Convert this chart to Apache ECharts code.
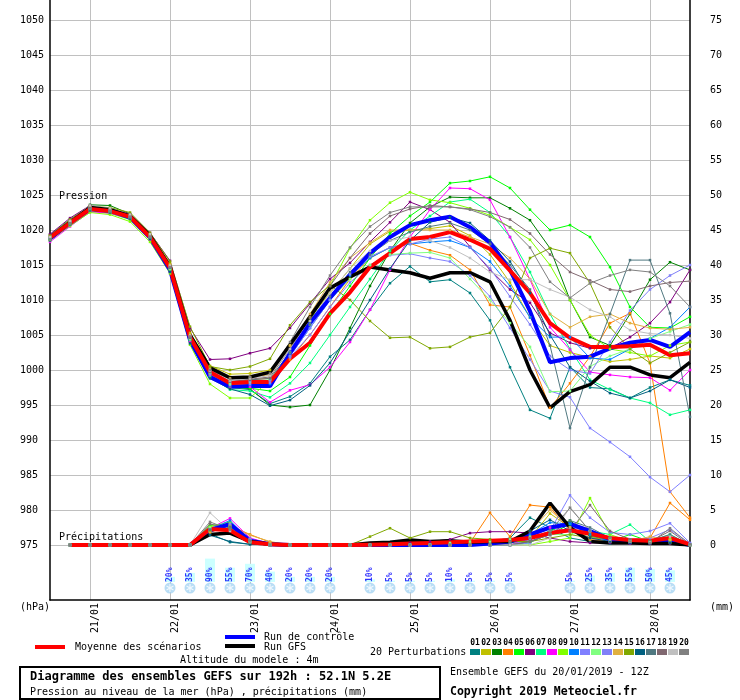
<!DOCTYPE html>
<html>
<head>
<meta charset="UTF-8">
<title>Ensembles GEFS</title>
<script src="https://cdn.jsdelivr.net/npm/echarts@6/dist/echarts.min.js"></script>
<style>
  body { margin: 0; background: #fff; }
  #main { width: 740px; height: 700px; }
</style>
</head>
<body>
<div id="main"></div>
<script type="text/javascript">
// echeances toutes les 6h, 20/01 12Z -> 28/01 12Z
var steps = [];
for (var h = 0; h <= 192; h += 6) steps.push(h);
var days = ['21/01', '22/01', '23/01', '24/01', '25/01', '26/01', '27/01', '28/01'];

// pression (hPa)
var pMean = [1018.9,1021.0,1023.0,1022.7,1021.9,1019.0,1014.6,1004.7,999.7,998.1,998.3,998.3,1001.6,1003.9,1008.1,1011.1,1014.7,1016.7,1018.7,1019.0,1019.7,1018.6,1017.3,1014.2,1011.0,1006.7,1004.6,1003.3,1003.3,1003.4,1003.6,1002.1,1002.4];
var pCtrl = [1018.8,1021.0,1023.0,1022.8,1021.8,1018.9,1014.3,1004.3,999.0,997.6,997.7,997.7,1002.4,1006.7,1010.3,1013.6,1016.7,1019.0,1020.7,1021.4,1021.9,1020.4,1018.2,1014.3,1008.4,1001.1,1001.7,1001.9,1003.1,1003.9,1004.3,1003.3,1005.4];
var pGfs = [1018.9,1021.1,1023.2,1022.9,1022.0,1019.2,1014.8,1005.0,1000.3,998.9,999.0,999.7,1003.6,1007.6,1011.7,1013.3,1014.7,1014.3,1013.9,1013.1,1013.9,1013.9,1012.6,1007.1,1000.0,994.6,996.9,997.9,1000.4,1000.4,999.3,998.9,1001.1];
var p01 = [1019.3,1021.5,1023.4,1022.9,1021.8,1018.8,1014.2,1004.0,999.2,997.5,997.2,995.2,996.2,998.1,1001.9,1004.3,1008.6,1012.4,1014.8,1012.6,1012.9,1011.0,1007.1,1000.4,994.3,993.1,1000.4,997.5,997.3,996.0,997.5,998.6,997.8];
var p02 = [1019.0,1021.2,1023.3,1022.9,1022.2,1019.4,1015.2,1005.3,1000.6,999.4,999.5,1000.0,1003.5,1007.5,1011.0,1014.5,1018.0,1019.8,1020.0,1020.2,1020.6,1019.2,1016.5,1012.5,1007.5,1003.5,1002.5,1001.8,1001.2,1001.5,1002.0,1001.7,1003.0];
var p03 = [1018.6,1020.9,1023.6,1023.5,1022.3,1019.3,1014.5,1004.5,999.3,997.8,997.3,995.0,994.7,995.0,1000.0,1006.0,1012.0,1017.0,1021.0,1023.3,1024.7,1024.6,1024.6,1023.1,1021.4,1017.4,1010.0,1004.7,1003.5,1008.0,1012.9,1015.4,1014.3];
var p04 = [1019.2,1021.4,1023.0,1022.6,1021.7,1019.0,1014.5,1004.6,999.4,998.2,998.6,998.8,1001.5,1005.0,1009.0,1013.0,1016.0,1017.5,1018.1,1017.1,1016.4,1014.3,1009.3,1009.0,1002.1,994.6,998.1,1001.9,1006.7,1008.1,1001.0,982.6,978.9];
var p05 = [1018.7,1020.9,1022.8,1022.4,1021.5,1018.7,1014.3,1004.2,999.2,997.5,997.4,997.0,999.0,1003.5,1008.0,1012.0,1016.0,1019.5,1022.0,1024.0,1026.7,1027.0,1027.6,1026.0,1022.9,1020.0,1020.7,1019.0,1014.7,1009.0,1006.1,1006.0,1007.6];
var p06 = [1019.4,1021.7,1023.5,1023.0,1022.3,1019.6,1015.6,1006.0,1001.5,1001.6,1002.4,1003.1,1006.0,1009.5,1013.0,1015.3,1018.3,1021.1,1024.0,1022.9,1021.1,1017.6,1014.3,1011.5,1009.6,1005.3,1003.9,1003.1,1003.1,1004.7,1006.7,1009.7,1014.3];
var p07 = [1018.8,1021.0,1022.9,1022.6,1021.7,1018.8,1014.4,1004.3,999.0,997.2,997.0,996.1,998.1,1001.0,1005.0,1009.0,1013.0,1017.0,1020.0,1022.0,1024.0,1024.4,1022.5,1019.0,1014.0,1008.0,1003.0,998.6,997.2,996.0,995.3,993.6,994.3];
var p08 = [1018.3,1020.5,1022.6,1022.4,1021.6,1018.6,1014.0,1004.0,999.3,997.5,997.6,995.4,997.1,997.9,1000.4,1004.0,1008.6,1014.3,1019.0,1022.9,1026.0,1025.9,1024.3,1019.0,1012.9,1006.1,1002.9,999.7,999.3,999.0,998.9,997.1,1000.0];
var p09 = [1018.5,1020.6,1022.5,1022.2,1021.2,1018.3,1013.8,1003.6,998.0,996.0,996.0,998.6,1002.0,1007.0,1012.0,1017.4,1021.4,1023.9,1025.4,1024.3,1023.9,1023.1,1022.1,1020.4,1018.6,1015.0,1010.0,1005.0,1003.0,1002.5,1002.0,1003.5,1004.0];
var p10 = [1018.9,1021.1,1023.1,1022.8,1021.9,1019.0,1014.6,1004.6,999.5,997.8,997.9,998.0,1002.0,1006.0,1010.0,1013.5,1016.0,1017.5,1018.0,1018.3,1018.5,1017.5,1015.5,1012.0,1007.5,1004.7,1004.7,1001.7,1001.5,1003.0,1004.5,1006.1,1009.0];
var p11 = [1019.0,1021.2,1023.1,1022.7,1021.8,1018.9,1014.5,1004.5,999.4,997.9,998.0,998.2,1001.8,1005.0,1009.0,1012.5,1015.0,1016.4,1016.6,1016.0,1015.5,1013.5,1010.5,1006.0,1001.5,997.0,996.1,991.7,989.7,987.6,984.7,982.6,985.0];
var p12 = [1018.7,1020.8,1022.9,1022.5,1021.6,1018.8,1014.4,1004.4,999.6,998.0,998.3,998.6,1002.5,1006.5,1010.0,1013.0,1015.0,1016.5,1016.7,1016.8,1016.0,1013.0,1010.0,1006.7,1003.3,996.9,997.0,1000.5,1002.0,1003.0,1004.5,1005.5,1006.5];
var p13 = [1019.1,1021.3,1023.2,1022.8,1021.9,1019.1,1014.8,1004.8,1000.0,998.3,998.4,998.5,1002.0,1006.0,1010.0,1013.7,1016.2,1017.5,1018.0,1018.7,1019.0,1017.5,1014.5,1010.5,1006.5,1002.0,1000.0,999.5,1004.0,1008.5,1011.5,1013.5,1015.0];
var p14 = [1019.0,1021.2,1023.3,1023.0,1022.1,1019.3,1015.0,1005.0,1000.3,998.8,999.0,999.3,1003.5,1008.0,1012.5,1016.0,1018.2,1020.0,1020.0,1020.0,1020.0,1019.0,1018.0,1016.0,1013.0,1008.0,1006.1,1007.6,1008.0,1006.7,1006.0,1005.8,1006.1];
var p15 = [1019.2,1021.5,1023.4,1023.2,1022.5,1019.6,1015.5,1006.2,1000.5,1000.0,1000.5,1001.6,1006.4,1009.7,1012.1,1010.0,1007.0,1004.6,1004.7,1003.1,1003.3,1004.7,1005.3,1009.0,1016.0,1017.4,1016.7,1012.4,1006.1,1003.0,1001.0,1002.5,1004.0];
var p16 = [1018.5,1020.8,1022.8,1022.5,1021.6,1018.7,1014.0,1003.8,998.8,997.3,996.5,994.9,995.7,997.8,1001.0,1005.5,1010.0,1014.5,1018.5,1021.1,1021.8,1021.0,1018.5,1015.5,1011.0,1005.0,1000.4,998.4,996.7,996.0,997.0,998.6,997.5];
var p17 = [1018.8,1021.0,1023.0,1022.6,1021.7,1018.9,1014.6,1004.7,999.8,998.4,998.6,998.8,1002.5,1006.5,1010.5,1014.0,1016.5,1018.5,1019.7,1020.5,1021.0,1020.0,1018.0,1015.0,1011.5,1003.5,991.7,1000.4,1008.0,1015.7,1015.7,1008.1,993.3];
var p18 = [1018.9,1021.1,1023.2,1022.9,1022.0,1019.1,1014.7,1004.6,999.7,998.4,998.7,999.0,1003.0,1007.5,1012.0,1016.0,1019.5,1022.0,1023.0,1023.5,1023.3,1023.0,1022.5,1021.5,1019.5,1016.5,1014.0,1012.8,1011.5,1011.2,1012.0,1012.5,1012.7];
var p19 = [1019.0,1021.3,1023.5,1023.1,1022.2,1019.4,1014.9,1004.9,999.9,998.5,998.8,999.2,1003.0,1007.0,1011.0,1014.5,1017.0,1018.5,1019.0,1018.5,1017.5,1016.0,1014.0,1012.9,1012.9,1011.5,1010.4,1008.6,1007.6,1005.7,1005.2,1005.0,1004.5];
var p20 = [1018.6,1020.9,1023.0,1022.7,1021.9,1019.0,1014.7,1004.8,1000.0,998.7,999.0,999.5,1004.0,1009.0,1013.5,1017.5,1020.5,1022.5,1023.3,1023.3,1023.3,1022.9,1021.9,1020.4,1017.5,1012.6,1010.3,1012.4,1013.5,1014.3,1014.0,1012.0,1009.0];

// precipitations (mm / 6h)
var rMean = [null,0,0,0,0,0,0,0,2.3,2.1,0.4,0.1,0,0,0,0,0.05,0.1,0.2,0.3,0.4,0.5,0.6,0.7,1.0,1.7,2.1,1.6,1.0,0.7,0.6,1.0,0.1];
var rCtrl = [null,0,0,0,0,0,0,0,2.1,3.0,0.6,0.1,0,0,0,0,0,0,0,0,0,0,0.2,0.5,1.5,2.5,3.0,2.0,0.8,0.5,0.3,0.6,0];
var rGfs = [null,0,0,0,0,0,0,0,1.5,1.7,0.5,0.1,0,0,0,0,0.3,0.4,0.7,0.5,0.6,0.4,0.5,0.5,2.0,6.0,2.5,0.5,0.3,0.3,0.2,0.2,0];
var r01 = [null,0,0,0,0,0,0,0,1.6,0.4,0.1,0,0,0,0,0,0,0,0,0,0,0,0.5,1.0,3.9,2.5,1.0,0.5,0.2,0.3,0.3,0.5,0.1];
var r02 = [null,0,0,0,0,0,0,0,2.5,2.8,0.8,0.2,0,0,0,0,0,0,0,0,0,0,0,0,1.0,4.5,2.5,1.0,0.8,0.5,0.3,0.8,0];
var r03 = [null,0,0,0,0,0,0,0,2.0,2.5,0.5,0,0,0,0,0,0,0,0,0,0,0,0,0.3,0.8,2.0,3.5,1.2,1.0,0.8,0.5,0.5,0];
var r04 = [null,0,0,0,0,0,0,0,1.8,2.8,1.5,0.4,0,0,0,0,0,0,0,0,0,0.3,4.6,1.2,5.7,5.4,2.0,0.8,0.5,0.5,1.0,6.0,3.6];
var r05 = [null,0,0,0,0,0,0,0,2.8,3.0,0.5,0,0,0,0,0,0,0,0,0,0,0,0,0,0.5,1.5,3.0,1.5,0.5,1.5,0.5,0.3,0];
var r06 = [null,0,0,0,0,0,0,0,2.2,3.0,0.6,0,0,0,0,0,0,0,0.3,0.5,0.8,1.7,1.9,1.9,1.7,1.0,0.5,0.3,0.3,0.2,0.2,0.2,0];
var r07 = [null,0,0,0,0,0,0,0,2.0,3.2,0.8,0,0,0,0,0,0,0,0,0,0,0,0,0,0.3,2.0,3.0,2.0,1.5,2.9,0.5,1.5,0];
var r08 = [null,0,0,0,0,0,0,0,2.4,3.8,1.0,0.2,0,0,0,0,0,0,0,0,0,0,0,0,1.0,2.5,2.0,1.0,0.5,0.3,0.2,0.5,0];
var r09 = [null,0,0,0,0,0,0,0,2.6,3.3,0.8,0.2,0,0,0,0,0,0,0,0,0,0,0,0,0,0.5,1.0,6.7,1.5,0.5,0.3,0.8,0];
var r10 = [null,0,0,0,0,0,0,0,2.3,3.5,0.6,0,0,0,0,0,0,0,0,0,0,0,0,0.3,1.5,3.2,3.0,1.5,0.5,0.3,0.4,0.5,0];
var r11 = [null,0,0,0,0,0,0,0,2.0,3.0,0.7,0,0,0,0,0,0,0,0,0,0,0,0,0,0.3,2.0,7.1,3.9,1.8,1.5,2.0,3.1,0.3];
var r12 = [null,0,0,0,0,0,0,0,2.5,2.5,0.4,0,0,0,0,0,0,0,0,0,0.3,0.5,0.5,0.8,1.2,1.5,1.5,2.0,1.0,0.8,0.5,0.7,0];
var r13 = [null,0,0,0,0,0,0,0,2.2,2.9,0.9,0,0,0,0,0,0,0,0,0,0,0,0,0,0.8,1.5,2.5,2.0,1.0,0.8,1.0,2.2,0.2];
var r14 = [null,0,0,0,0,0,0,0,1.9,2.7,1.4,0.5,0,0,0,0,0,0,0,0,0,0,0,0.5,2.0,5.0,2.5,0.8,0.5,0.5,1.2,0.7,0];
var r15 = [null,0,0,0,0,0,0,0,2.1,2.4,0.3,0,0,0,0,0,1.2,2.4,1.0,1.9,1.9,1.0,0.8,0.5,0.5,1.0,1.5,1.0,1.0,0.6,0.5,0.3,0];
var r16 = [null,0,0,0,0,0,0,0,1.4,0.5,0.1,0,0,0,0,0,0,0,0,0,0,0,0,0.5,2.0,3.6,2.0,1.0,0.5,0.3,0.2,0.3,0];
var r17 = [null,0,0,0,0,0,0,0,2.2,2.6,0.6,0,0,0,0,0,0,0,0,0,0,0,0,0,0.5,1.5,3.5,2.5,1.0,0.5,0.6,1.5,0];
var r18 = [null,0,0,0,0,0,0,0,3.0,2.4,0.5,0,0,0,0,0,0,0,0,0,0,0,0,0,0.5,1.5,2.0,5.7,2.0,0.8,0.5,2.0,0];
var r19 = [null,0,0,0,0,0,0,0,4.6,2.0,0.4,0,0,0,0,0,0,0,0,0,0,0,0,0,0,1.0,5.4,2.0,0.8,0.5,0.4,1.2,0];
var r20 = [null,0,0,0,0,0,0,0,3.3,2.2,0.5,0,0,0,0,0,0,0,0,0,0,0,0,0.5,1.0,2.0,5.3,2.0,1.0,0.5,0.3,2.4,0.1];

// probabilite de neige (%)
var snowPct = [null,null,null,null,null,null,20,35,90,55,70,40,20,20,20,null,10,5,5,5,10,5,5,5,null,null,5,25,35,55,50,45,null];

var pMembers = [p01,p02,p03,p04,p05,p06,p07,p08,p09,p10,p11,p12,p13,p14,p15,p16,p17,p18,p19,p20];
var rMembers = [r01,r02,r03,r04,r05,r06,r07,r08,r09,r10,r11,r12,r13,r14,r15,r16,r17,r18,r19,r20];
var memberColors = ['#008080','#c0c000','#008000','#ff8000','#00ff00','#800080','#00ff80','#ff00ff','#80ff00','#0080ff',
                    '#8080ff','#80ff80','#8080f8','#e0b040','#80a800','#006080','#507880','#806870','#c0c0c0','#808080'];

var MONO = "'DejaVu Sans Mono', 'Liberation Mono', monospace";
var FLAKE = 'path://M-0.6,-4L0.6,-4L0.6,4L-0.6,4Z M-3.764,-1.48L-3.164,-2.52L3.764,1.48L3.164,2.52Z M3.164,-2.52L3.764,-1.48L-3.164,2.52L-3.764,1.48Z';

function dayTick(i) { return i % 4 === 2; }
function plain(v) { return String(v); }

function txt(s, x, y, size, bold, color, align) {
    return { type: 'text', x: x, y: y, silent: true, z: 10,
        style: { text: s, fill: color || '#000', font: (bold ? 'bold ' : '') + size + 'px ' + MONO,
                 align: align || 'left', verticalAlign: 'middle' } };
}
function seg(x1, y1, x2, y2, color, w) {
    return { type: 'line', silent: true, z: 10, shape: { x1: x1, y1: y1, x2: x2, y2: y2 },
        style: { stroke: color, lineWidth: w } };
}

var series = [];
function addLine(data, yIdx, color, width, thin) {
    series.push({
        type: 'line', xAxisIndex: 1, yAxisIndex: yIdx, data: data,
        lineStyle: { color: color, width: width }, itemStyle: { color: color },
        symbol: thin ? 'rect' : 'none', symbolSize: 2.5, showAllSymbol: true,
        silent: true, animation: false
    });
}
// pression
for (var k = 0; k < 20; k++) addLine(pMembers[k], 2, memberColors[k], 1, true);
addLine(pCtrl, 2, '#0000ff', 4);
addLine(pGfs, 2, '#000000', 3.5);
addLine(pMean, 2, '#ff0000', 4);
// precipitations
for (var k = 0; k < 20; k++) addLine(rMembers[k], 3, memberColors[k], 1, true);
addLine(rCtrl, 3, '#0000ff', 4);
addLine(rGfs, 3, '#000000', 3.5);
addLine(rMean, 3, '#ff0000', 4);

// neige : barres, icones, pourcentages
var snowBase = snowPct.map(function (v) { return v == null ? '-' : 0; });
series.push({ type: 'bar', xAxisIndex: 2, yAxisIndex: 4, data: snowPct, barWidth: 10,
    itemStyle: { color: '#ccffff' }, silent: true, animation: false });
series.push({ type: 'scatter', xAxisIndex: 2, yAxisIndex: 4, data: snowBase, clip: false,
    symbol: 'circle', symbolSize: 11, symbolOffset: [0, 6], itemStyle: { color: '#a6d4f2' },
    silent: true, animation: false });
series.push({ type: 'scatter', xAxisIndex: 2, yAxisIndex: 4, data: snowBase, clip: false,
    symbol: FLAKE, symbolSize: 8, symbolKeepAspect: true, symbolOffset: [0, 6], itemStyle: { color: '#ffffff' },
    silent: true, animation: false });
series.push({ type: 'scatter', xAxisIndex: 2, yAxisIndex: 4, data: snowBase, clip: false,
    symbolSize: 1, itemStyle: { color: 'rgba(0,0,0,0)' }, silent: true, animation: false,
    label: { show: true, position: 'inside', rotate: 90, align: 'left', verticalAlign: 'middle',
        color: '#0000ff', fontFamily: MONO, fontSize: 8, fontWeight: 'bold',
        formatter: function (p) { return snowPct[p.dataIndex] + '%'; } } });

// legende et cartouche
var graphics = [
    txt('Pression', 59, 196, 10),
    txt('Précipitations', 59, 537, 10),
    txt('(hPa)', 20, 607, 10),
    txt('(mm)', 710, 607, 10),
    seg(35, 647, 65, 647, '#ff0000', 4),
    txt('Moyenne des scénarios', 75, 647, 10),
    seg(225, 637, 255, 637, '#0000ff', 4),
    txt('Run de contrôle', 264, 637, 10),
    seg(225, 646, 255, 646, '#000000', 4),
    txt('Run GFS', 264, 647, 10),
    txt('Altitude du modele : 4m', 180, 660, 10),
    { type: 'rect', silent: true, z: 10, shape: { x: 20, y: 667, width: 420, height: 32 },
      style: { fill: 'transparent', stroke: '#000', lineWidth: 2 } },
    txt('Diagramme des ensembles GEFS sur 192h : 52.1N 5.2E', 30, 677, 12, true),
    txt('Pression au niveau de la mer (hPa) , précipitations (mm)', 30, 692, 10),
    txt('20 Perturbations', 370, 652, 10),
    txt('Ensemble GEFS du 20/01/2019 - 12Z', 450, 672, 10),
    txt('Copyright 2019 Meteociel.fr', 450, 692, 11.5, true)
];
for (var k = 0; k < 20; k++) {
    graphics.push({ type: 'rect', silent: true, z: 10, shape: { x: 470 + 11 * k, y: 649, width: 10, height: 6 },
        style: { fill: memberColors[k] } });
    graphics.push(txt((k < 9 ? '0' : '') + (k + 1), 475 + 11 * k, 643, 8, true, '#000', 'center'));
}

var chart = echarts.init(document.getElementById('main'));
chart.setOption({
    animation: false,
    backgroundColor: '#ffffff',
    grid: [
        { left: 50, right: 50, top: 0, bottom: 100 },
        { left: 50, right: 50, top: 20, bottom: 155 },
        { left: 50, right: 50, top: 556, bottom: 118 }
    ],
    xAxis: [
        { gridIndex: 0, type: 'category', data: steps, boundaryGap: false,
          axisLine: { lineStyle: { color: '#000', width: 1.5 } }, axisTick: { show: false },
          splitLine: { show: true, interval: dayTick, lineStyle: { color: '#c0c0c0', width: 1 } },
          axisLabel: { interval: dayTick, rotate: 90, verticalAlign: 'top', margin: 3,
              color: '#000', fontFamily: MONO, fontSize: 10,
              formatter: function (v, i) { return days[(i - 2) / 4]; } } },
        { gridIndex: 1, type: 'category', data: steps, boundaryGap: false, show: false },
        { gridIndex: 2, type: 'category', data: steps, boundaryGap: false, show: false }
    ],
    yAxis: [
        { gridIndex: 0, type: 'value', min: 0, max: 1, axisLine: { show: true, lineStyle: { color: '#000', width: 1.5 } },
          axisTick: { show: false }, axisLabel: { show: false }, splitLine: { show: false } },
        { gridIndex: 0, type: 'value', position: 'right', min: 0, max: 1,
          axisLine: { show: true, lineStyle: { color: '#000', width: 1.5 } },
          axisTick: { show: false }, axisLabel: { show: false }, splitLine: { show: false } },
        { gridIndex: 1, type: 'value', min: 975, max: 1050, interval: 5,
          axisLine: { show: false }, axisTick: { show: false },
          axisLabel: { align: 'left', margin: 30, padding: [6, 0, 0, 0], color: '#000', fontFamily: MONO, fontSize: 10,
              formatter: plain },
          splitLine: { lineStyle: { color: '#c0c0c0', width: 1 } } },
        { gridIndex: 1, type: 'value', position: 'right', min: 0, max: 75, interval: 5,
          axisLine: { show: false }, axisTick: { show: false },
          axisLabel: { align: 'left', margin: 20, padding: [6, 0, 0, 0], color: '#000', fontFamily: MONO, fontSize: 10,
              formatter: plain },
          splitLine: { show: false } },
        { gridIndex: 2, type: 'value', min: 0, max: 100, show: false }
    ],
    series: series,
    graphic: graphics
});
</script>
</body>
</html>
